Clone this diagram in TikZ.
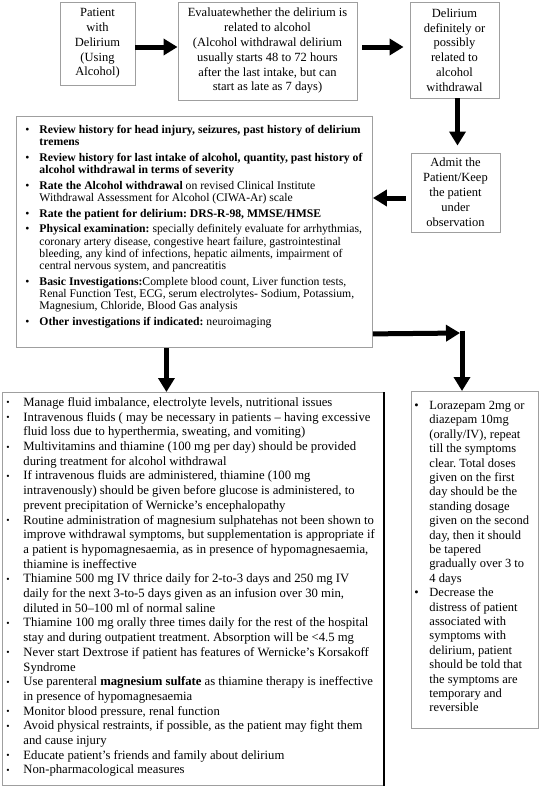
\documentclass[tikz,border=0pt]{standalone}
\usepackage{fontspec}
\setmainfont{Liberation Serif}
\usetikzlibrary{arrows.meta}
\newlength{\bind}
\newlength{\bpos}
\newcommand{\bmark}{\textbullet}
\newcommand{\bitem}{\par\noindent\hangindent=\bind\hangafter=1\makebox[\bind][l]{\hspace{\bpos}\strut\bmark}}
\newcommand{\listsetup}{\frenchspacing\rightskip=0pt plus 1fil\hbadness=10000\relax}
\begin{document}
\begin{tikzpicture}[x=1pt,y=-1pt,
  box/.style={draw=gray!75,line width=0.9pt,inner sep=0pt},
  topbox/.style={box,align=center,font=\fontsize{12.5}{14.8}\selectfont},
  bigarrow/.style={line width=5pt,-{Triangle[length=14pt,width=16pt]}}]
\useasboundingbox (0,0) rectangle (539,787);

\node[topbox,minimum width=75pt,minimum height=83pt] (pat) at (97.5,43.5) {Patient\\with\\Delirium\\(Using\\Alcohol)};
\node[topbox,minimum width=179pt,minimum height=98pt] (eval) at (267.5,51) {Evaluatewhether the delirium is\\related to alcohol\\(Alcohol withdrawal delirium\\usually starts 48 to 72 hours\\after the last intake, but can\\start as late as 7 days)};
\node[topbox,minimum width=89pt,minimum height=96pt] (rel) at (454.5,50) {Delirium\\definitely or\\possibly\\related to\\alcohol\\withdrawal};
\node[topbox,minimum width=89pt,minimum height=79pt,font=\fontsize{12.5}{15}\selectfont] (adm) at (455.5,192.5) {Admit the\\Patient/Keep\\the patient\\under\\observation};

\node[box,anchor=north west] (rev) at (16,116) {\parbox[b][231pt][t]{356pt}{\fontsize{11.7}{12.2}\selectfont\listsetup
  \setlength{\parskip}{3.5pt}\setlength{\bind}{23pt}\setlength{\bpos}{9pt}\vspace*{5pt}%
  \bitem\textbf{Review history for head injury, seizures, past history of delirium\\tremens}
  \bitem\textbf{Review history for last intake of alcohol, quantity, past history of\\alcohol withdrawal in terms of severity}
  \bitem\textbf{Rate the Alcohol withdrawal} on revised Clinical Institute\\Withdrawal Assessment for Alcohol (CIWA-Ar) scale
  \bitem\textbf{Rate the patient for delirium: DRS-R-98, MMSE/HMSE}
  \bitem\textbf{Physical examination:} specially definitely evaluate for arrhythmias,\\coronary artery disease, congestive heart failure, gastrointestinal\\bleeding, any kind of infections, hepatic ailments, impairment of\\central nervous system, and pancreatitis
  \bitem\textbf{Basic Investigations:}Complete blood count, Liver function tests,\\Renal Function Test, ECG, serum electrolytes- Sodium, Potassium,\\Magnesium, Chloride, Blood Gas analysis
  \bitem\textbf{Other investigations if indicated:} neuroimaging\par}};

\node[box,anchor=north west] (mng) at (2,392) {\parbox[b][393pt][t]{381pt}{\fontsize{12.7}{14.7}\selectfont\listsetup
  \setlength{\bind}{21pt}\setlength{\bpos}{4pt}\renewcommand{\bmark}{\raisebox{0.5pt}{\fontsize{9.5}{9.5}\selectfont\textbullet}}\vspace*{3.7pt}%
  \bitem Manage fluid imbalance, electrolyte levels, nutritional issues
  \bitem Intravenous fluids ( may be necessary in patients -- having excessive\\fluid loss due to hyperthermia, sweating, and vomiting)
  \bitem Multivitamins and thiamine (100 mg per day) should be provided\\during treatment for alcohol withdrawal
  \bitem If intravenous fluids are administered, thiamine (100 mg\\intravenously) should be given before glucose is administered, to\\prevent precipitation of Wernicke’s encephalopathy
  \bitem Routine administration of magnesium sulphatehas not been shown to\\improve withdrawal symptoms, but supplementation is appropriate if\\a patient is hypomagnesaemia, as in presence of hypomagnesaemia,\\thiamine is ineffective
  \bitem Thiamine 500 mg IV thrice daily for 2-to-3 days and 250 mg IV\\daily for the next 3-to-5 days given as an infusion over 30 min,\\diluted in 50--100 ml of normal saline
  \bitem Thiamine 100 mg orally three times daily for the rest of the hospital\\stay and during outpatient treatment. Absorption will be <4.5 mg
  \bitem Never start Dextrose if patient has features of Wernicke’s Korsakoff\\Syndrome
  \bitem Use parenteral \textbf{magnesium sulfate} as thiamine therapy is ineffective\\in presence of hypomagnesaemia
  \bitem Monitor blood pressure, renal function
  \bitem Avoid physical restraints, if possible, as the patient may fight them\\and cause injury
  \bitem Educate patient’s friends and family about delirium
  \bitem Non-pharmacological measures\par}};
\draw[line width=2pt] (mng.north east) -- (mng.south east);

\node[box,anchor=north west] (benz) at (411,391) {\parbox[b][337pt][t]{127pt}{\fontsize{12.5}{14.4}\selectfont\listsetup
  \setlength{\bind}{18pt}\setlength{\bpos}{3pt}\vspace*{7.9pt}%
  \bitem Lorazepam 2mg or\\diazepam 10mg\\(orally/IV), repeat\\till the symptoms\\clear. Total doses\\given on the first\\day should be the\\standing dosage\\given on the second\\day, then it should\\be tapered\\gradually over 3 to\\4 days
  \bitem Decrease the\\distress of patient\\associated with\\symptoms with\\delirium, patient\\should be told that\\the symptoms are\\temporary and\\reversible\par}};

\coordinate (a1) at ([yshift=-3.5pt]pat.east);
\draw[bigarrow] (a1) -- (a1 -| eval.west);
\draw[bigarrow,shorten <=5pt,shorten >=6pt] (a1 -| eval.east) -- (a1 -| rel.west);
\draw[bigarrow,shorten >=7pt] ([xshift=3pt]rel.south) -- ([xshift=3pt]rel.south |- adm.north);
\coordinate (a4) at ([yshift=-5.5pt]adm.west);
\draw[bigarrow,shorten <=5pt] (a4) -- (a4 -| rev.east);
\coordinate (a5) at ([xshift=-28pt]rev.south);
\draw[bigarrow] (a5) -- (a5 |- mng.north);
\coordinate (a6) at ([yshift=14pt]rev.south east);
\coordinate (elb) at (462,333);
\draw[bigarrow,shorten >=2pt] (a6) -- (elb);
\draw[bigarrow] ([yshift=2.5pt]elb) -- (elb |- benz.north);
\end{tikzpicture}
\end{document}
